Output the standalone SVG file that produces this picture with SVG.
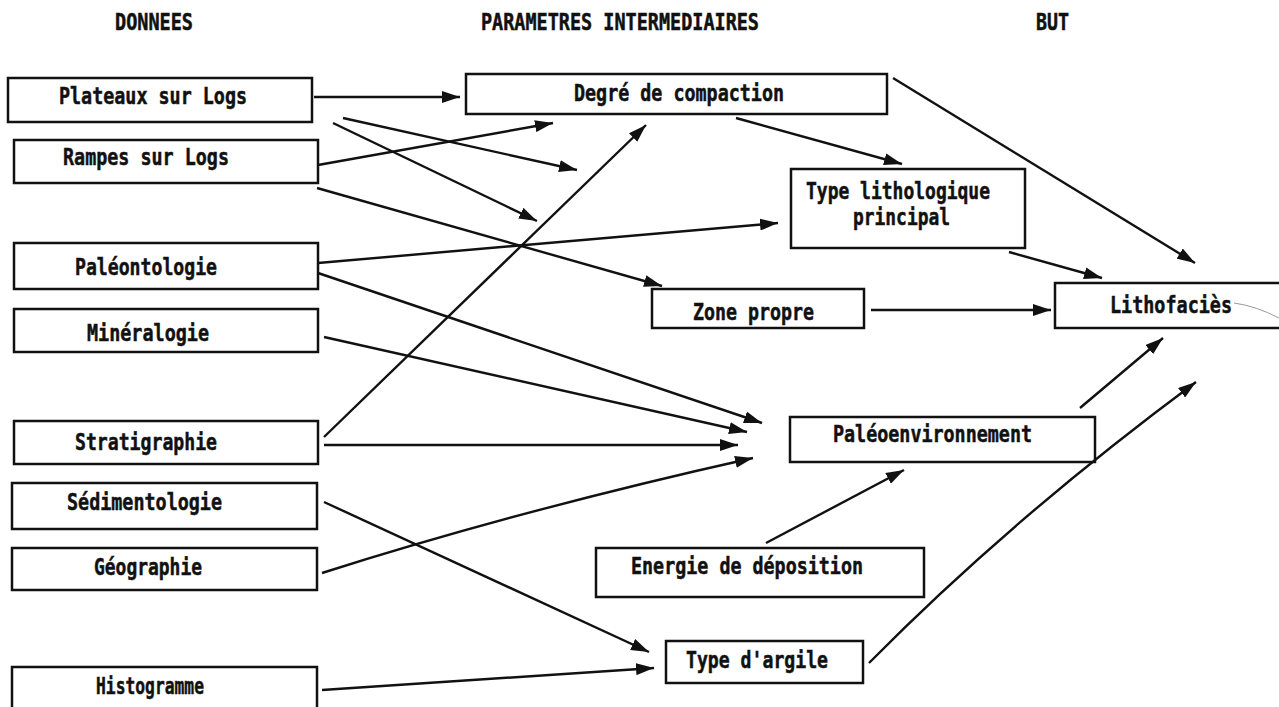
<svg xmlns="http://www.w3.org/2000/svg" width="1279" height="707" viewBox="0 0 1279 707">
<style>
.bx{fill:#fff;stroke:#111;stroke-width:2.5}
.t{font-family:"DejaVu Sans Mono","Liberation Mono",monospace;font-weight:bold;font-size:23px;fill:#111;stroke:#111;stroke-width:0.5}
.c line,.c path{stroke:#111;stroke-width:2.4;fill:none;marker-end:url(#ah)}
</style>
<defs>
<marker id="ah" markerUnits="userSpaceOnUse" markerWidth="20" markerHeight="12" refX="18" refY="6" orient="auto"><path d="M0,0 L18,6 L0,12 z" fill="#111"/></marker>
</defs>
<rect width="1279" height="707" fill="#fff"/>
<g id="headers">
<text class="t" x="115" y="30" textLength="78" lengthAdjust="spacingAndGlyphs">DONNEES</text>
<text class="t" x="481" y="30" textLength="278" lengthAdjust="spacingAndGlyphs">PARAMETRES INTERMEDIAIRES</text>
<text class="t" x="1036" y="30" textLength="33" lengthAdjust="spacingAndGlyphs">BUT</text>
</g>
<g id="n-plateaux"><rect class="bx" x="8" y="78" width="304" height="44"/><text class="t" x="59" y="104" textLength="188" lengthAdjust="spacingAndGlyphs">Plateaux sur Logs</text></g>
<g id="n-rampes"><rect class="bx" x="14" y="140" width="304" height="43"/><text class="t" x="63" y="165" textLength="166" lengthAdjust="spacingAndGlyphs">Rampes sur Logs</text></g>
<g id="n-paleonto"><rect class="bx" x="14" y="243" width="304" height="46"/><text class="t" x="75" y="275" textLength="142" lengthAdjust="spacingAndGlyphs">Paléontologie</text></g>
<g id="n-mineralogie"><rect class="bx" x="14" y="309" width="304" height="43"/><text class="t" x="87" y="341" textLength="122" lengthAdjust="spacingAndGlyphs">Minéralogie</text></g>
<g id="n-strati"><rect class="bx" x="14" y="421" width="304" height="43"/><text class="t" x="75" y="450" textLength="142" lengthAdjust="spacingAndGlyphs">Stratigraphie</text></g>
<g id="n-sedim"><rect class="bx" x="12" y="483" width="305" height="46"/><text class="t" x="67" y="510" textLength="155" lengthAdjust="spacingAndGlyphs">Sédimentologie</text></g>
<g id="n-geo"><rect class="bx" x="12" y="548" width="305" height="42"/><text class="t" x="94" y="575" textLength="108" lengthAdjust="spacingAndGlyphs">Géographie</text></g>
<g id="n-histo"><rect class="bx" x="12" y="667" width="305" height="50"/><text class="t" x="96" y="694" textLength="108" lengthAdjust="spacingAndGlyphs">Histogramme</text></g>
<g id="n-degre"><rect class="bx" x="466" y="74" width="421" height="40"/><text class="t" x="574" y="101" textLength="210" lengthAdjust="spacingAndGlyphs">Degré de compaction</text></g>
<g id="n-typelitho"><rect class="bx" x="791" y="169" width="234" height="79"/><text class="t" x="806" y="199" textLength="184" lengthAdjust="spacingAndGlyphs">Type lithologique</text><text class="t" x="853" y="225" textLength="97" lengthAdjust="spacingAndGlyphs">principal</text></g>
<g id="n-zone"><rect class="bx" x="652" y="289" width="212" height="39"/><text class="t" x="693" y="320" textLength="121" lengthAdjust="spacingAndGlyphs">Zone propre</text></g>
<g id="n-litho"><rect class="bx" x="1055" y="283" width="240" height="45"/><text class="t" x="1110" y="313" textLength="122" lengthAdjust="spacingAndGlyphs">Lithofaciès</text><path d="M1234,303 Q1256,306 1279,318" fill="none" stroke="#999" stroke-width="1"/></g>
<g id="n-paleoenv"><rect class="bx" x="790" y="417" width="305" height="45"/><text class="t" x="833" y="442" textLength="199" lengthAdjust="spacingAndGlyphs">Paléoenvironnement</text></g>
<g id="n-energie"><rect class="bx" x="596" y="548" width="328" height="49"/><text class="t" x="631" y="574" textLength="232" lengthAdjust="spacingAndGlyphs">Energie de déposition</text></g>
<g id="n-argile"><rect class="bx" x="666" y="641" width="197" height="42"/><text class="t" x="686" y="668" textLength="142" lengthAdjust="spacingAndGlyphs">Type d'argile</text></g>
<g id="connectors" class="c">
<line x1="314" y1="97" x2="460" y2="97"/>
<line x1="343" y1="118" x2="577" y2="170"/>
<line x1="333" y1="123" x2="537" y2="221"/>
<line x1="318" y1="165" x2="553" y2="123"/>
<line x1="317" y1="188" x2="662" y2="286"/>
<line x1="324" y1="437" x2="646" y2="125"/>
<line x1="736" y1="118" x2="902" y2="164"/>
<line x1="318" y1="263" x2="778" y2="223"/>
<line x1="318" y1="273" x2="762" y2="423"/>
<line x1="324" y1="337" x2="747" y2="432"/>
<line x1="324" y1="445" x2="738" y2="445"/>
<path d="M322,573 Q520,510 753,458"/>
<line x1="324" y1="502" x2="649" y2="652"/>
<line x1="322" y1="690" x2="654" y2="668"/>
<path d="M869,663 Q1010,520 1196,382"/>
<line x1="766" y1="543" x2="904" y2="470"/>
<line x1="1080" y1="408" x2="1163" y2="338"/>
<line x1="871" y1="310" x2="1051" y2="310"/>
<line x1="1009" y1="252" x2="1102" y2="278"/>
<line x1="893" y1="78" x2="1195" y2="263"/>
</g>
</svg>
